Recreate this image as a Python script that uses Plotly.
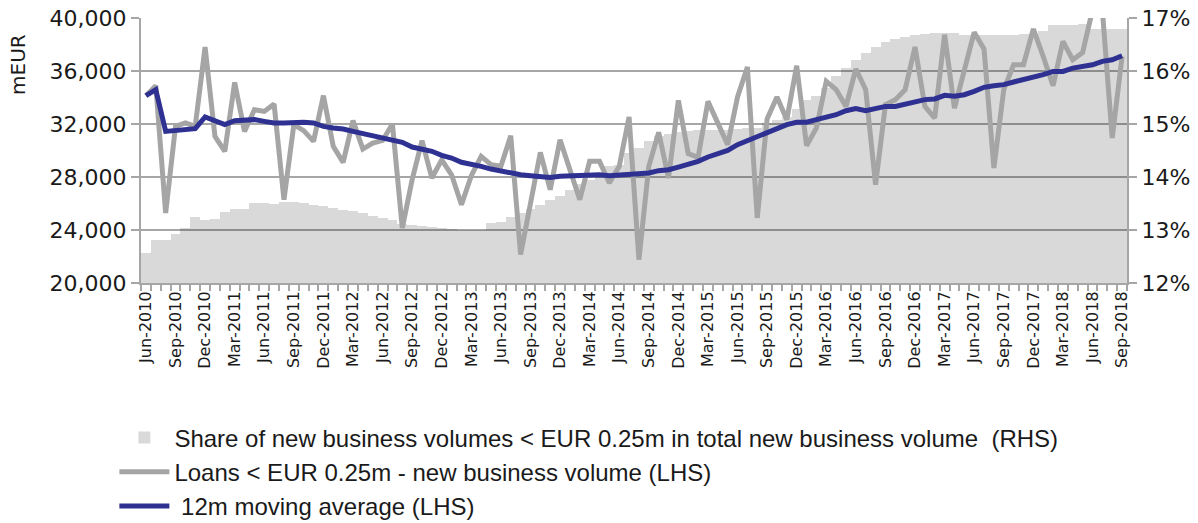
import plotly.graph_objects as go

# monthly labels Jun-2010 .. Sep-2018
month_names = ["Jan", "Feb", "Mar", "Apr", "May", "Jun",
               "Jul", "Aug", "Sep", "Oct", "Nov", "Dec"]
months = []
for yr in range(2010, 2019):
    for m in range(12):
        if (yr == 2010 and m < 5) or (yr == 2018 and m > 8):
            continue
        months.append(f"{month_names[m]}-{yr}")

# share of new business volumes < EUR 0.25m (RHS, %)
share_pct = [
    12.57, 12.82, 12.82, 12.93, 13.04, 13.25, 13.19, 13.20, 13.34, 13.40,
    13.40, 13.51, 13.51, 13.50, 13.52, 13.52, 13.51, 13.48, 13.45, 13.42,
    13.38, 13.35, 13.32, 13.26, 13.23, 13.19, 13.11, 13.10, 13.07, 13.06,
    13.03, 13.02, 13.00, 13.00, 13.00, 13.13, 13.16, 13.25, 13.32, 13.40,
    13.48, 13.57, 13.65, 13.76, 13.86, 13.94, 14.08, 14.21, 14.23, 14.45,
    14.55, 14.67, 14.77, 14.82, 14.84, 14.86, 14.88, 14.89, 14.88, 14.89,
    14.91, 14.92, 14.92, 15.02, 15.07, 15.14, 15.28, 15.46, 15.52, 15.68,
    15.90, 16.06, 16.21, 16.34, 16.45, 16.55, 16.60, 16.65, 16.67, 16.70,
    16.72, 16.72, 16.72, 16.68, 16.68, 16.68, 16.68, 16.68, 16.68, 16.70,
    16.70, 16.75, 16.86, 16.86, 16.87, 16.89, 16.79, 16.79, 16.79, 16.79,
]

# loans < EUR 0.25m, new business volume (LHS, mEUR)
loans = [
    34140, 34890, 25280, 31820, 32080, 31820, 37810, 31070, 29930, 35140,
    31440, 33080, 32950, 33500, 26290, 31950, 31500, 30690, 34140, 30310,
    29100, 32250, 30110, 30560, 30760, 32000, 24150, 27800, 30740, 27920,
    29300, 28170, 25910, 28100, 29560, 28930, 28810, 31120, 22140, 26040,
    29860, 27040, 30810, 28550, 26290, 29180, 29180, 27550, 28800, 32530,
    21760, 28800, 31370, 27920, 33780, 29760, 29480, 33710, 32000, 30440,
    34040, 36300, 24910, 32380, 34040, 32330, 36400, 30360, 31700, 35220,
    34590, 33330, 36150, 34590, 27420, 33460, 33830, 34590, 37810, 33330,
    32450, 38740, 33200, 36230, 38920, 37660, 28680, 34590, 36470, 36470,
    39170, 37100, 34890, 38240, 36850, 37400, 40600, 40600, 30940, 37100,
]

# 12m moving average (LHS, mEUR)
mov_avg = [
    34140, 34590, 31440, 31520, 31570, 31650, 32530, 32250, 31950, 32250,
    32250, 32330, 32200, 32080, 32080, 32130, 32130, 32080, 31820, 31700,
    31620, 31440, 31270, 31120, 30940, 30820, 30620, 30260, 30110, 29940,
    29630, 29430, 29110, 29000, 28800, 28600, 28430, 28350, 28170, 28100,
    28050, 27970, 28050, 28100, 28120, 28170, 28170, 28100, 28150, 28220,
    28300, 28300, 28480, 28550, 28750, 28930, 29180, 29510, 29730, 30010,
    30440, 30740, 31070, 31320, 31620, 31950, 32130, 32130, 32330, 32530,
    32700, 33000, 33160, 33000, 33210, 33330, 33330, 33530, 33660, 33840,
    33890, 34160, 34090, 34210, 34460, 34770, 34890, 34970, 35170, 35340,
    35470, 35720, 35970, 35970, 36220, 36350, 36470, 36730, 36850, 37150,
]

x = list(range(len(months)))
label_idx = x[::3]

FONT = "DejaVu Sans"
GRID = "#a6a6a6"

fig = go.Figure()

fig.add_trace(go.Bar(
    x=x, y=share_pct, yaxis="y",
    marker=dict(color="rgba(0,0,0,0.15)", line=dict(width=0)),
    name="Share of new business volumes < EUR 0.25m in total new business volume  (RHS)",
    legendgroup="a",
))
fig.add_trace(go.Scatter(
    x=x, y=loans, yaxis="y2", mode="lines",
    line=dict(color="#a5a5a5", width=5),
    name="Loans < EUR 0.25m - new business volume (LHS)",
    legendgroup="b",
))
fig.add_trace(go.Scatter(
    x=x, y=mov_avg, yaxis="y2", mode="lines",
    line=dict(color="#2e3192", width=5),
    name=" 12m moving average (LHS)",
    legendgroup="c",
))

fig.update_layout(
    width=1198, height=523,
    margin=dict(l=141, r=71, t=18, b=240, autoexpand=False),
    paper_bgcolor="white", plot_bgcolor="white",
    bargap=0,
    font=dict(family=FONT, size=22, color="#1a1a1a"),
    xaxis=dict(
        range=[-0.5, len(months) - 0.5],
        tickmode="array", tickvals=label_idx,
        ticktext=[months[i] for i in label_idx],
        tickangle=-90, ticks="", tickfont=dict(size=16),
        showline=True, linecolor=GRID, linewidth=2,
        showgrid=False, zeroline=False,
        minor=dict(tickmode="linear", tick0=-0.5, dtick=1,
                   ticks="outside", ticklen=6, tickcolor=GRID, tickwidth=1.5),
    ),
    yaxis=dict(
        side="right", range=[12, 17], dtick=1, ticksuffix="%",
        ticklabeloverflow="allow",
        showline=True, linecolor=GRID, linewidth=2,
        ticks="outside", ticklen=8, tickcolor=GRID, tickwidth=2,
        showgrid=True, gridcolor=GRID, gridwidth=2, zeroline=False,
    ),
    yaxis2=dict(
        overlaying="y", side="left", range=[20000, 40000], dtick=4000,
        tickformat=",", ticklabeloverflow="allow",
        showline=True, linecolor=GRID, linewidth=2,
        ticks="outside", ticklen=8, tickcolor=GRID, tickwidth=2,
        showgrid=False, zeroline=False,
    ),
    legend=dict(
        x=-0.027, y=-0.5, xanchor="left", yanchor="top",
        orientation="v", traceorder="normal", tracegroupgap=0,
        font=dict(family="Liberation Sans", size=24),
        itemwidth=50, bgcolor="rgba(0,0,0,0)",
    ),
    annotations=[dict(
        text="mEUR", xref="paper", yref="paper", x=-0.1247, y=0.823,
        xanchor="center", yanchor="middle",
        textangle=-90, showarrow=False, font=dict(size=20),
    )],
)

# drop the default page margin so the figure fills the window; no modebar
fig.write_html("out.html", config={"displayModeBar": False},
               post_script="document.body.style.margin='0';")
